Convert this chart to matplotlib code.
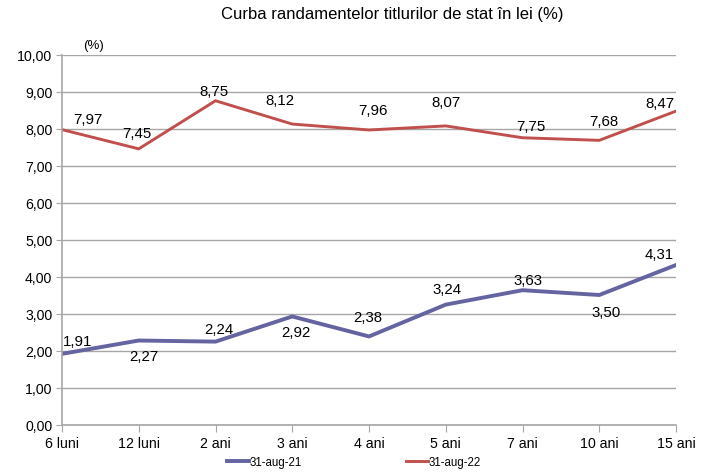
import matplotlib
matplotlib.use("Agg")
import matplotlib.pyplot as plt

plt.rcParams["font.family"] = ["Liberation Sans", "DejaVu Sans"]

# data
categories = ["6 luni", "12 luni", "2 ani", "3 ani", "4 ani", "5 ani", "7 ani", "10 ani", "15 ani"]
aug21 = [1.91, 2.27, 2.24, 2.92, 2.38, 3.24, 3.63, 3.50, 4.31]
aug22 = [7.97, 7.45, 8.75, 8.12, 7.96, 8.07, 7.75, 7.68, 8.47]
series_names = ["31-aug-21", "31-aug-22"]
yticks = [0, 1, 2, 3, 4, 5, 6, 7, 8, 9, 10]

# label offsets in pixels (dx, dy), dy positive = up
off21 = [(16, 13), (5, -15), (3, 13), (4, -16), (-1, 19), (1, 16), (5, 10), (7, -17), (-17, 11)]
off22 = [(26, 11), (-2, 16), (-2, 10), (-12, 24), (4, 20), (0, 24), (8, 12), (5, 19), (-16, 8)]

blue = "#6464A0"
red = "#C0504D"
grid = "#A6A6A6"

fig = plt.figure(figsize=(7.15, 4.77), dpi=100)
ax = fig.add_axes([62 / 715, 1 - 425.5 / 477, 614 / 715, 370 / 477])

x = list(range(len(categories)))
ax.plot(x, aug21, color=blue, lw=2.8, label=series_names[0], solid_joinstyle="miter")
ax.plot(x, aug22, color=red, lw=2.1, label=series_names[1], solid_joinstyle="miter")

def fmt(v):
    return f"{v:.2f}".replace(".", ",")

for vals, offs in ((aug21, off21), (aug22, off22)):
    for xi, v, (dx, dy) in zip(x, vals, offs):
        ax.annotate(fmt(v), (xi, v), xytext=(dx, dy), textcoords="offset pixels",
                    ha="center", va="center", fontsize=10.8, color="black")

ax.set_xlim(0, len(categories) - 1)
ax.set_ylim(0, 10)
ax.set_yticks(yticks)
ax.set_yticklabels([fmt(v) for v in yticks], fontsize=10.2)
ax.set_xticks(x)
ax.set_xticklabels(categories, fontsize=10.2)
ax.yaxis.grid(True, color=grid, lw=1)
ax.set_axisbelow(True)
for s in ("top", "right"):
    ax.spines[s].set_visible(False)
for s in ("left", "bottom"):
    ax.spines[s].set_color(grid)
    ax.spines[s].set_linewidth(1.2)
ax.tick_params(axis="x", direction="out", length=5, color=grid, pad=3)
ax.tick_params(axis="y", direction="out", length=4, color=grid, pad=3)

fig.text(392 / 715, 1 - 15 / 477, "Curba randamentelor titlurilor de stat în lei (%)",
         ha="center", va="center", fontsize=12)
fig.text(93 / 715, 1 - 46 / 477, "(%)", ha="center", va="center", fontsize=9.5)

fig.legend(loc="center", bbox_to_anchor=(354 / 715, 1 - 463 / 477), ncol=2,
           frameon=False, fontsize=8.3, handlelength=1.9, handletextpad=0.1,
           columnspacing=9.0)

fig.savefig("out.png", dpi=100)
